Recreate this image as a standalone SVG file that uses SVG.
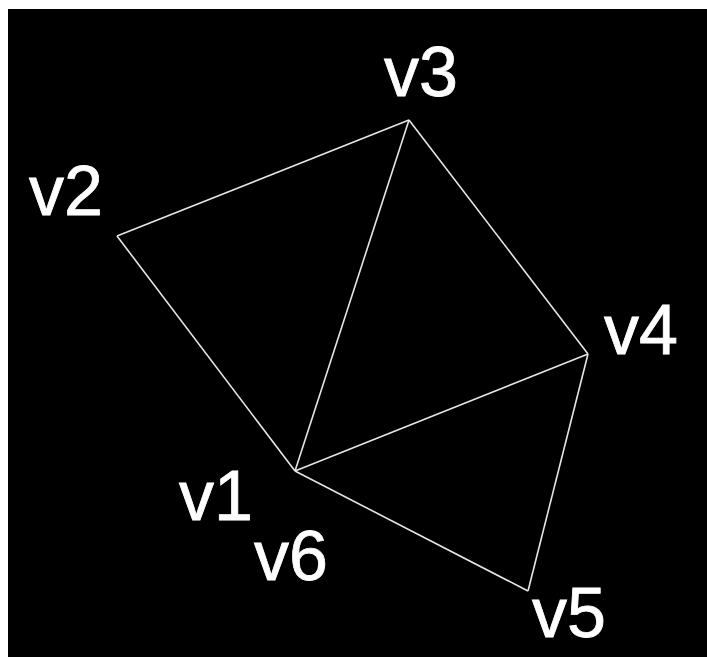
<svg xmlns="http://www.w3.org/2000/svg" width="707" height="657" viewBox="0 0 707 657">
<style>
.edge{stroke:#e6e6e6;stroke-width:1.6;fill:none}
.lbl{font-family:"Liberation Sans",Arial,sans-serif;font-size:70px;fill:#ffffff;stroke:#ffffff;stroke-width:0.8}
</style>
<rect x="0" y="0" width="707" height="657" fill="#ffffff"/>
<rect x="8" y="9" width="699" height="648" fill="#000000"/>
<g id="connectors">
<line class="edge" x1="117" y1="236" x2="409" y2="120"/>
<line class="edge" x1="117" y1="236" x2="295" y2="471"/>
<line class="edge" x1="295" y1="471" x2="409" y2="120"/>
<line class="edge" x1="409" y1="120" x2="588" y2="354"/>
<line class="edge" x1="295" y1="471" x2="588" y2="354"/>
<line class="edge" x1="588" y1="354" x2="528" y2="591"/>
<line class="edge" x1="295" y1="471" x2="528" y2="591"/>
</g>
<g id="v1"><text class="lbl" x="179" y="520">v1</text></g>
<g id="v2"><text class="lbl" x="29" y="215">v2</text></g>
<g id="v3"><text class="lbl" x="384" y="96">v3</text></g>
<g id="v4"><text class="lbl" x="604" y="354">v4</text></g>
<g id="v5"><text class="lbl" x="532" y="637">v5</text></g>
<g id="v6"><text class="lbl" x="254" y="580">v6</text></g>
</svg>
